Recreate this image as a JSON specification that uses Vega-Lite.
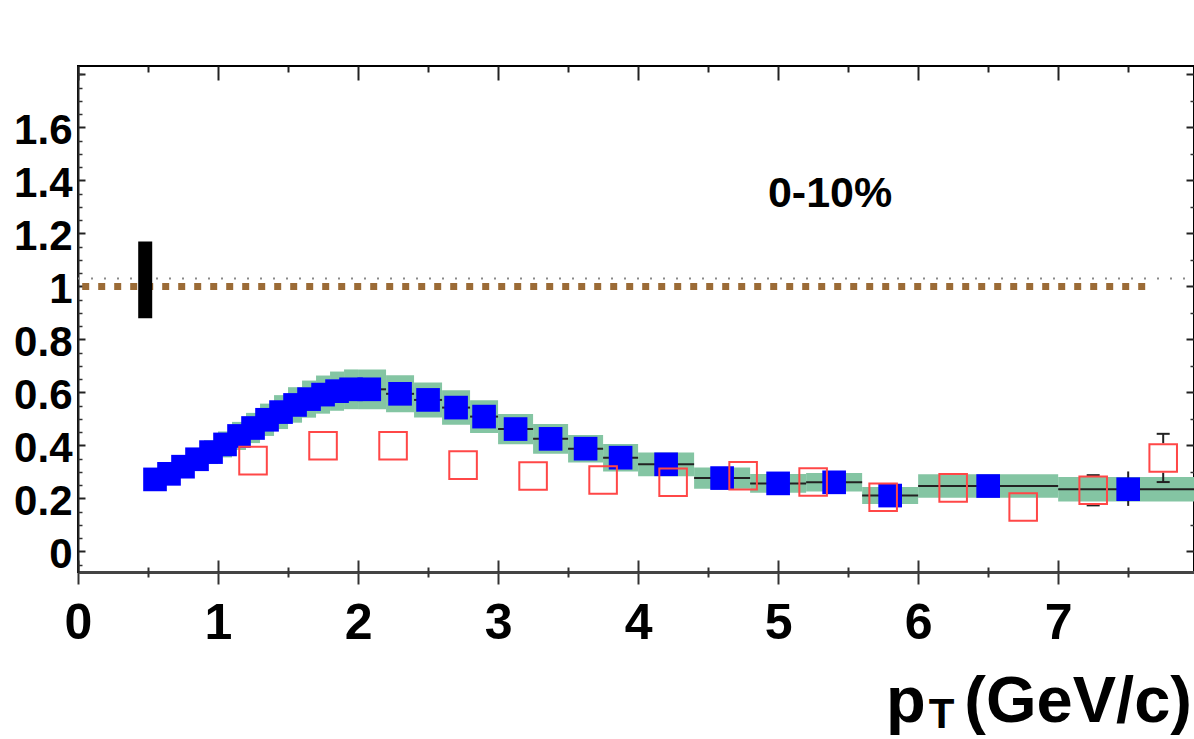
{
  "$schema": "https://vega.github.io/schema/vega-lite/v6.json",
  "width": 1116,
  "height": 506,
  "autosize": {"type": "none"},
  "padding": {"left": 78, "top": 66, "right": 0, "bottom": 167},
  "background": "#ffffff",
  "config": {
    "view": {"stroke": "#000000", "strokeWidth": 2},
    "font": "Liberation Sans",
    "axis": {"grid": false, "title": null, "labelFont": "Liberation Sans", "labelFontWeight": "bold", "labelColor": "#000000", "labelFlush": false, "labelOverlap": false}
  },
  "datasets": {
    "blue": [
      {"pT": 0.55, "lo": 0.5, "hi": 0.6, "R": 0.272, "ys1": 0.239, "ys2": 0.305},
      {"pT": 0.65, "lo": 0.6, "hi": 0.7, "R": 0.293, "ys1": 0.257, "ys2": 0.329},
      {"pT": 0.75, "lo": 0.7, "hi": 0.8, "R": 0.320, "ys1": 0.281, "ys2": 0.359},
      {"pT": 0.85, "lo": 0.8, "hi": 0.9, "R": 0.348, "ys1": 0.306, "ys2": 0.390},
      {"pT": 0.95, "lo": 0.9, "hi": 1.0, "R": 0.375, "ys1": 0.330, "ys2": 0.420},
      {"pT": 1.05, "lo": 1.0, "hi": 1.1, "R": 0.404, "ys1": 0.355, "ys2": 0.453},
      {"pT": 1.15, "lo": 1.1, "hi": 1.2, "R": 0.436, "ys1": 0.383, "ys2": 0.489},
      {"pT": 1.25, "lo": 1.2, "hi": 1.3, "R": 0.466, "ys1": 0.409, "ys2": 0.523},
      {"pT": 1.35, "lo": 1.3, "hi": 1.4, "R": 0.497, "ys1": 0.436, "ys2": 0.558},
      {"pT": 1.45, "lo": 1.4, "hi": 1.5, "R": 0.526, "ys1": 0.462, "ys2": 0.590},
      {"pT": 1.55, "lo": 1.5, "hi": 1.6, "R": 0.553, "ys1": 0.486, "ys2": 0.620},
      {"pT": 1.65, "lo": 1.6, "hi": 1.7, "R": 0.575, "ys1": 0.505, "ys2": 0.645},
      {"pT": 1.75, "lo": 1.7, "hi": 1.8, "R": 0.592, "ys1": 0.520, "ys2": 0.664},
      {"pT": 1.85, "lo": 1.8, "hi": 1.9, "R": 0.605, "ys1": 0.531, "ys2": 0.679},
      {"pT": 1.95, "lo": 1.9, "hi": 2.0, "R": 0.612, "ys1": 0.537, "ys2": 0.687},
      {"pT": 2.08, "lo": 2.0, "hi": 2.2, "R": 0.612, "ys1": 0.537, "ys2": 0.687},
      {"pT": 2.3, "lo": 2.2, "hi": 2.4, "R": 0.595, "ys1": 0.525, "ys2": 0.665},
      {"pT": 2.5, "lo": 2.4, "hi": 2.6, "R": 0.572, "ys1": 0.506, "ys2": 0.638},
      {"pT": 2.7, "lo": 2.6, "hi": 2.8, "R": 0.543, "ys1": 0.478, "ys2": 0.608},
      {"pT": 2.9, "lo": 2.8, "hi": 3.0, "R": 0.509, "ys1": 0.447, "ys2": 0.571},
      {"pT": 3.125, "lo": 3.0, "hi": 3.25, "R": 0.462, "ys1": 0.405, "ys2": 0.519},
      {"pT": 3.375, "lo": 3.25, "hi": 3.5, "R": 0.425, "ys1": 0.369, "ys2": 0.481},
      {"pT": 3.625, "lo": 3.5, "hi": 3.75, "R": 0.388, "ys1": 0.336, "ys2": 0.440},
      {"pT": 3.875, "lo": 3.75, "hi": 4.0, "R": 0.354, "ys1": 0.302, "ys2": 0.406},
      {"pT": 4.2, "lo": 4.0, "hi": 4.4, "R": 0.329, "ys1": 0.284, "ys2": 0.374},
      {"pT": 4.6, "lo": 4.4, "hi": 4.8, "R": 0.277, "ys1": 0.237, "ys2": 0.317},
      {"pT": 5.0, "lo": 4.8, "hi": 5.2, "R": 0.257, "ys1": 0.222, "ys2": 0.292},
      {"pT": 5.4, "lo": 5.2, "hi": 5.6, "R": 0.261, "ys1": 0.226, "ys2": 0.296},
      {"pT": 5.8, "lo": 5.6, "hi": 6.0, "R": 0.211, "ys1": 0.179, "ys2": 0.243},
      {"pT": 6.5, "lo": 6.0, "hi": 7.0, "R": 0.247, "ys1": 0.203, "ys2": 0.291},
      {"pT": 7.5, "lo": 7.0, "hi": 8.0, "R": 0.235, "ys1": 0.189, "ys2": 0.281}
    ],
    "red": [
      {"pT": 1.25, "R": 0.343},
      {"pT": 1.75, "R": 0.399},
      {"pT": 2.25, "R": 0.399},
      {"pT": 2.75, "R": 0.326},
      {"pT": 3.25, "R": 0.285},
      {"pT": 3.75, "R": 0.270},
      {"pT": 4.25, "R": 0.261},
      {"pT": 4.75, "R": 0.286},
      {"pT": 5.25, "R": 0.262},
      {"pT": 5.75, "R": 0.205},
      {"pT": 6.25, "R": 0.240},
      {"pT": 6.75, "R": 0.168},
      {"pT": 7.25, "R": 0.231},
      {"pT": 7.75, "R": 0.353}
    ],
    "redErr": [
      {"pT": 7.25, "lo": 0.174, "hi": 0.288},
      {"pT": 7.75, "lo": 0.262, "hi": 0.444}
    ],
    "redErrSeg": [
      {"pT": 7.75, "y1": 0.408, "y2": 0.444},
      {"pT": 7.75, "y1": 0.262, "y2": 0.298}
    ],
    "blueErr": [
      {"pT": 7.5, "lo": 0.172, "hi": 0.302}
    ]
  },
  "resolve": {"axis": {"x": "independent", "y": "independent"}},
  "layer": [
    {
      "data": {"name": "blue"},
      "mark": {"type": "rect", "fill": "#84c5a3", "stroke": null},
      "encoding": {
        "x": {"field": "lo", "type": "quantitative", "scale": {"domain": [0, 7.97], "nice": false, "zero": false},
              "axis": {"orient": "bottom", "values": [0, 1, 2, 3, 4, 5, 6, 7], "format": "d", "tickSize": 12, "tickWidth": 2, "tickColor": "#333333", "labelFontSize": 50, "labelPadding": 14, "domainColor": "#444444", "domainWidth": 3}},
        "x2": {"field": "hi"},
        "y": {"field": "ys1", "type": "quantitative", "scale": {"domain": [-0.0774, 1.832], "nice": false, "zero": false},
              "axis": {"orient": "left", "values": [0, 0.2, 0.4, 0.6, 0.8, 1, 1.2, 1.4, 1.6, 1.8], "labelExpr": "datum.value > 1.7 ? '' : format(datum.value, '~g')", "tickSize": -7, "tickWidth": 2, "tickColor": "#222222", "labelFontSize": 42, "labelPadding": 13, "labelOffset": 3, "domainColor": "#222222", "domainWidth": 2}},
        "y2": {"field": "ys2"}
      }
    },
    {
      "data": {"name": "blue"},
      "mark": {"type": "rule", "color": "#222222", "strokeWidth": 2},
      "encoding": {
        "x": {"field": "lo", "type": "quantitative", "scale": {"domain": [0, 7.97], "nice": false, "zero": false},
              "axis": {"orient": "bottom", "values": [0.5, 1.5, 2.5, 3.5, 4.5, 5.5, 6.5, 7.5], "labels": false, "domain": false, "tickSize": 5, "tickWidth": 2, "tickColor": "#333333"}},
        "x2": {"field": "hi"},
        "y": {"field": "R", "type": "quantitative", "scale": {"domain": [-0.0774, 1.832], "nice": false, "zero": false},
              "axis": {"orient": "left", "values": [-0.05, 0.05, 0.1, 0.15, 0.25, 0.3, 0.35, 0.45, 0.5, 0.55, 0.65, 0.7, 0.75, 0.85, 0.9, 0.95, 1.05, 1.1, 1.15, 1.25, 1.3, 1.35, 1.45, 1.5, 1.55, 1.65, 1.7, 1.75, 1.8], "labels": false, "domain": false, "tickSize": -4, "tickWidth": 1.5, "tickColor": "#333333"}}
      }
    },
    {
      "data": {"values": [{"x1": 0, "x2": 7.97, "y": 1.03}]},
      "mark": {"type": "rule", "color": "#8a8a8a", "strokeWidth": 2, "strokeDash": [2, 11]},
      "encoding": {
        "x": {"field": "x1", "type": "quantitative", "scale": {"domain": [0, 7.97], "nice": false, "zero": false},
              "axis": {"orient": "top", "values": [0, 1, 2, 3, 4, 5, 6, 7], "labels": false, "domain": false, "tickSize": -14, "tickWidth": 2, "tickColor": "#222222"}},
        "x2": {"field": "x2"},
        "y": {"field": "y", "type": "quantitative", "scale": {"domain": [-0.0774, 1.832], "nice": false, "zero": false},
              "axis": {"orient": "right", "values": [0, 0.2, 0.4, 0.6, 0.8, 1, 1.2, 1.4, 1.6, 1.8], "labels": false, "domain": false, "tickSize": -8, "tickWidth": 2, "tickColor": "#222222"}}
      }
    },
    {
      "data": {"values": [{"x1": 0.03, "x2": 7.63, "y": 1}]},
      "mark": {"type": "rule", "color": "#9b6b36", "strokeWidth": 7, "strokeDash": [7, 9], "strokeCap": "butt"},
      "encoding": {
        "x": {"field": "x1", "type": "quantitative", "scale": {"domain": [0, 7.97], "nice": false, "zero": false},
              "axis": {"orient": "top", "values": [0.5, 1.5, 2.5, 3.5, 4.5, 5.5, 6.5, 7.5], "labels": false, "domain": false, "tickSize": -6, "tickWidth": 2, "tickColor": "#222222"}},
        "x2": {"field": "x2"},
        "y": {"field": "y", "type": "quantitative", "scale": {"domain": [-0.0774, 1.832], "nice": false, "zero": false},
              "axis": {"orient": "right", "values": [0.1, 0.3, 0.5, 0.7, 0.9, 1.1, 1.3, 1.5, 1.7], "labels": false, "domain": false, "tickSize": -4, "tickWidth": 1.5, "tickColor": "#333333"}}
      }
    },
    {
      "data": {"values": [{"lo": 0.43, "hi": 0.53, "ylo": 0.88, "yhi": 1.17}]},
      "mark": {"type": "rect", "fill": "#000000"},
      "encoding": {
        "x": {"field": "lo", "type": "quantitative", "scale": {"domain": [0, 7.97], "nice": false, "zero": false},
              "axis": {"orient": "bottom", "values": [0, 1, 2, 3, 4, 5, 6, 7], "labels": false, "domain": false, "tickSize": -12, "tickWidth": 2, "tickColor": "#333333"}},
        "x2": {"field": "hi"},
        "y": {"field": "ylo", "type": "quantitative", "scale": {"domain": [-0.0774, 1.832], "nice": false, "zero": false}, "axis": null},
        "y2": {"field": "yhi"}
      }
    },
    {
      "data": {"name": "blueErr"},
      "mark": {"type": "rule", "color": "#222222", "strokeWidth": 2},
      "encoding": {
        "x": {"field": "pT", "type": "quantitative", "scale": {"domain": [0, 7.97], "nice": false, "zero": false},
              "axis": {"orient": "bottom", "values": [0.5, 1.5, 2.5, 3.5, 4.5, 5.5, 6.5, 7.5], "labels": false, "domain": false, "tickSize": -5, "tickWidth": 2, "tickColor": "#333333"}},
        "y": {"field": "lo", "type": "quantitative", "scale": {"domain": [-0.0774, 1.832], "nice": false, "zero": false}, "axis": null},
        "y2": {"field": "hi"}
      }
    },
    {
      "data": {"name": "redErrSeg"},
      "mark": {"type": "rule", "color": "#222222", "strokeWidth": 2},
      "encoding": {
        "x": {"field": "pT", "type": "quantitative", "scale": {"domain": [0, 7.97], "nice": false, "zero": false}, "axis": null},
        "y": {"field": "y1", "type": "quantitative", "scale": {"domain": [-0.0774, 1.832], "nice": false, "zero": false}, "axis": null},
        "y2": {"field": "y2"}
      }
    },
    {
      "data": {"name": "redErr"},
      "mark": {"type": "tick", "orient": "horizontal", "color": "#222222", "size": 13, "thickness": 2, "opacity": 1},
      "encoding": {
        "x": {"field": "pT", "type": "quantitative", "scale": {"domain": [0, 7.97], "nice": false, "zero": false}, "axis": null},
        "y": {"field": "hi", "type": "quantitative", "scale": {"domain": [-0.0774, 1.832], "nice": false, "zero": false}, "axis": null}
      }
    },
    {
      "data": {"name": "redErr"},
      "mark": {"type": "tick", "orient": "horizontal", "color": "#222222", "size": 13, "thickness": 2, "opacity": 1},
      "encoding": {
        "x": {"field": "pT", "type": "quantitative", "scale": {"domain": [0, 7.97], "nice": false, "zero": false}, "axis": null},
        "y": {"field": "lo", "type": "quantitative", "scale": {"domain": [-0.0774, 1.832], "nice": false, "zero": false}, "axis": null}
      }
    },
    {
      "data": {"name": "blue"},
      "mark": {"type": "point", "shape": "square", "filled": true, "color": "#0000ff", "size": 560, "opacity": 1},
      "encoding": {
        "x": {"field": "pT", "type": "quantitative", "scale": {"domain": [0, 7.97], "nice": false, "zero": false}, "axis": null},
        "y": {"field": "R", "type": "quantitative", "scale": {"domain": [-0.0774, 1.832], "nice": false, "zero": false}, "axis": null}
      }
    },
    {
      "data": {"name": "red"},
      "mark": {"type": "point", "shape": "square", "filled": false, "color": "#ff4747", "strokeWidth": 2, "size": 760, "opacity": 1},
      "encoding": {
        "x": {"field": "pT", "type": "quantitative", "scale": {"domain": [0, 7.97], "nice": false, "zero": false}, "axis": null},
        "y": {"field": "R", "type": "quantitative", "scale": {"domain": [-0.0774, 1.832], "nice": false, "zero": false}, "axis": null}
      }
    },
    {
      "data": {"values": [{"label": "0-10%", "pT": 5.371, "R": 1.349}]},
      "mark": {"type": "text", "font": "Liberation Sans", "fontWeight": "bold", "fontSize": 43, "align": "center", "baseline": "middle", "color": "#000000"},
      "encoding": {
        "x": {"field": "pT", "type": "quantitative", "scale": {"domain": [0, 7.97], "nice": false, "zero": false}, "axis": null},
        "y": {"field": "R", "type": "quantitative", "scale": {"domain": [-0.0774, 1.832], "nice": false, "zero": false}, "axis": null},
        "text": {"field": "label"}
      }
    },
    {
      "data": {"values": [{"label": "p", "pT": 5.77, "R": -0.643}, {"label": "(GeV/c)", "pT": 6.33, "R": -0.643}]},
      "mark": {"type": "text", "font": "Liberation Sans", "fontWeight": "bold", "fontSize": 65, "align": "left", "baseline": "alphabetic", "color": "#000000"},
      "encoding": {
        "x": {"field": "pT", "type": "quantitative", "scale": {"domain": [0, 7.97], "nice": false, "zero": false}, "axis": null},
        "y": {"field": "R", "type": "quantitative", "scale": {"domain": [-0.0774, 1.832], "nice": false, "zero": false}, "axis": null},
        "text": {"field": "label"}
      }
    },
    {
      "data": {"values": [{"label": "T", "pT": 6.075, "R": -0.665}]},
      "mark": {"type": "text", "font": "Liberation Sans", "fontWeight": "bold", "fontSize": 42, "align": "left", "baseline": "alphabetic", "color": "#000000"},
      "encoding": {
        "x": {"field": "pT", "type": "quantitative", "scale": {"domain": [0, 7.97], "nice": false, "zero": false}, "axis": null},
        "y": {"field": "R", "type": "quantitative", "scale": {"domain": [-0.0774, 1.832], "nice": false, "zero": false}, "axis": null},
        "text": {"field": "label"}
      }
    }
  ]
}
